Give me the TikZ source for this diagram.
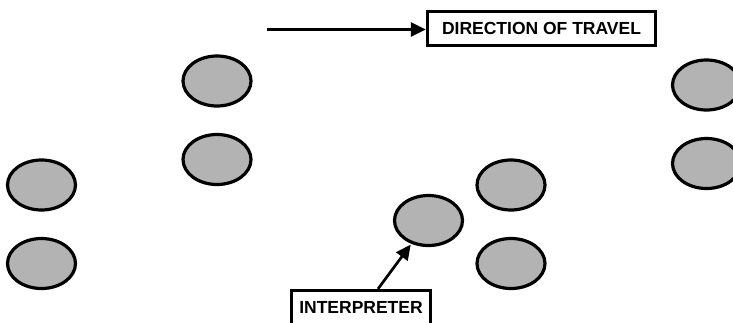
\documentclass[tikz,border=0pt]{standalone}
\usepackage{fontspec}
\setmainfont{Liberation Sans}
\usetikzlibrary{shapes.geometric,arrows.meta}
\definecolor{seatgray}{HTML}{B3B3B3}
\tikzset{
  seat/.style={ellipse, draw=black, fill=seatgray, line width=3.2pt, minimum width=68pt, minimum height=50pt, inner sep=0pt},
  labelbox/.style={draw=black, line width=3.2pt, fill=white, font=\fontsize{17.5}{20}\selectfont\bfseries, align=center},
  travelarrow/.style={line width=2.7pt, -{Triangle[length=15pt,width=14pt]}}
}
\begin{document}
\begin{tikzpicture}[x=1pt,y=-1pt]
\clip (0,0) rectangle (733,322);
\fill[white] (0,0) rectangle (733,322);
% seats
\node[seat] (a1) at (217,81) {};
\node[seat] (a2) at (217,159.5) {};
\node[seat] (b1) at (41.5,185) {};
\node[seat] (b2) at (41.5,263.5) {};
\node[seat] (c1) at (511,185) {};
\node[seat] (c2) at (511,263.5) {};
\node[seat] (d1) at (706.5,85) {};
\node[seat] (d2) at (706.5,163.5) {};
\node[seat] (e) at (428.5,220.5) {};
% direction of travel
\node[labelbox, minimum width=228pt, minimum height=34pt, inner sep=0pt] (dir) at (541.5,28.5) {DIRECTION OF TRAVEL};
\coordinate (start) at (267,29.5);
\draw[travelarrow] (start) -- (dir.west |- start);
% interpreter
\node[labelbox, anchor=base, minimum width=139pt, inner xsep=0pt, inner ysep=10pt, text height=12.5pt, text depth=30pt] (interp) at (361,313) {INTERPRETER};
\draw[travelarrow, shorten >=1pt] ([xshift=17pt]interp.north) -- (e);
\end{tikzpicture}
\end{document}
